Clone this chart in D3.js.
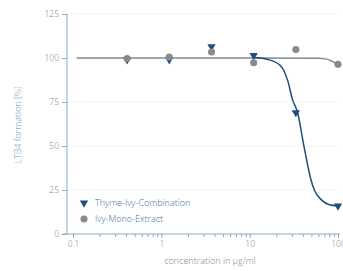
<!DOCTYPE html>
<html>
<head>
<meta charset="utf-8">
<script src="https://cdn.jsdelivr.net/npm/d3@7"></script>
<style>
  body { margin: 0; background: #fff; }
  text { font-family: "Open Sans", "Noto Sans", sans-serif; font-weight: 300; }
</style>
</head>
<body>
<div id="chart"></div>
<script>
// measured concentrations (µg/ml)
var concentrations = [0.41, 1.23, 3.7, 11.1, 33.3, 100];
var thymeIvyValues = [99, 99, 106.5, 101.5, 69, 16];
var ivyMonoValues = [99.7, 100.6, 103.4, 97.3, 104.8, 96.4];

// fitted curves
var thymeIvyCurveX = [11.1, 16, 22.5, 27, 30.5, 34.8, 41.2, 49.4, 53.8, 65, 80, 96];
var thymeIvyCurveY = [100.3, 99.2, 95.5, 87, 76.5, 69.2, 49.8, 30.8, 25.1, 19.4, 16.6, 16];
var ivyMonoCurveX = [0.11, 1, 10, 60, 72, 82, 90, 98];
var ivyMonoCurveY = [100, 100, 100, 99.9, 99.5, 98.6, 97.6, 96.6];

var yTicks = [0, 25, 50, 75, 100, 125];
var xTicks = [0.1, 1, 10, 100];
var legendNames = ["Thyme-Ivy-Combination", "Ivy-Mono-Extract"];

var width = 343, height = 271;
var blue = "#1d4f7e", grey = "#8a8a8a", axisCol = "#7f9fc0", labelCol = "#7a8794";

var svg = d3.select("#chart").append("svg")
    .attr("width", width)
    .attr("height", height);

var x = d3.scaleLog().domain([0.1, 100]).range([73, 338]);
var y = d3.scaleLinear().domain([0, 125]).range([234, 14]);
var x0 = 67;

// grid
svg.append("g").selectAll("line")
    .data(yTicks.filter(function(d) { return d > 0; }))
    .enter().append("line")
    .attr("x1", x0).attr("x2", 340)
    .attr("y1", function(d) { return y(d); })
    .attr("y2", function(d) { return y(d); })
    .style("stroke", "#e4e8ec")
    .style("stroke-width", 0.8)
    .style("stroke-dasharray", "1,1");

// y axis
var yaxis = d3.axisLeft(y).tickValues(yTicks).tickSize(5).tickPadding(3);
var gy = svg.append("g")
    .attr("transform", "translate(" + x0 + ",0)")
    .call(yaxis);
gy.select(".domain").attr("d", "M0," + y(125) + "V" + y(0));

// x axis: major + minor ticks
var minor = [];
xTicks.slice(0, 3).forEach(function(t) {
    for (var k = 2; k <= 9; k++) minor.push(t * k);
});
var xaxis = d3.axisBottom(x).tickValues(xTicks).tickSize(4).tickPadding(3)
    .tickFormat(function(d) { return String(d); });
var gx = svg.append("g")
    .attr("transform", "translate(0," + y(0) + ")")
    .call(xaxis);
gx.select(".domain").attr("d", "M" + (x0 - 4) + ",0H340");
var gxm = svg.append("g")
    .attr("transform", "translate(0," + y(0) + ")")
    .call(d3.axisBottom(x).tickValues(minor).tickSize(3).tickFormat(""));
gxm.select(".domain").remove();

[gy, gx, gxm].forEach(function(g) {
    g.selectAll("path, line").style("stroke", axisCol).style("stroke-width", 0.9);
    g.selectAll("text").style("fill", labelCol).style("font-size", "8.5px");
});

// axis titles
svg.append("text")
    .text("LTB4 formation [%]")
    .attr("transform", "translate(21," + y(62) + ") rotate(-90)")
    .style("text-anchor", "middle")
    .style("fill", "#6f9cc4")
    .style("font-size", "9px");
svg.append("text")
    .text("concentration in µg/ml")
    .attr("x", 210).attr("y", 264)
    .style("text-anchor", "middle")
    .style("fill", labelCol)
    .style("font-size", "9px");

// curves
var line = d3.line()
    .x(function(d) { return x(d[0]); })
    .y(function(d) { return y(d[1]); })
    .curve(d3.curveMonotoneX);

svg.append("path")
    .datum(d3.zip(ivyMonoCurveX, ivyMonoCurveY))
    .attr("d", line)
    .style("fill", "none")
    .style("stroke", grey)
    .style("stroke-width", 1.5);

svg.append("path")
    .datum(d3.zip(thymeIvyCurveX, thymeIvyCurveY))
    .attr("d", line)
    .style("fill", "none")
    .style("stroke", blue)
    .style("stroke-width", 1.5);

// markers
var tri = d3.symbol().type(d3.symbolTriangle).size(30);
var circ = d3.symbol().type(d3.symbolCircle).size(40);

svg.append("g").selectAll("path")
    .data(d3.zip(concentrations, thymeIvyValues))
    .enter().append("path")
    .attr("d", tri)
    .attr("transform", function(d) { return "translate(" + x(d[0]) + "," + y(d[1]) + ") rotate(180)"; })
    .style("fill", blue);

svg.append("g").selectAll("path")
    .data(d3.zip(concentrations, ivyMonoValues))
    .enter().append("path")
    .attr("d", circ)
    .attr("transform", function(d) { return "translate(" + x(d[0]) + "," + y(d[1]) + ")"; })
    .style("fill", grey);

// legend
var legend = svg.append("g").attr("transform", "translate(84,203)");
legend.append("path").attr("d", tri).attr("transform", "rotate(180)").style("fill", blue);
legend.append("path").attr("d", circ).attr("transform", "translate(0,16)").style("fill", grey);
legend.selectAll("text")
    .data(legendNames)
    .enter().append("text")
    .text(function(d) { return d; })
    .attr("x", 11)
    .attr("y", function(d, i) { return i * 16 + 3.2; })
    .style("fill", "#4a6f96")
    .style("font-size", "9px");
</script>
</body>
</html>
